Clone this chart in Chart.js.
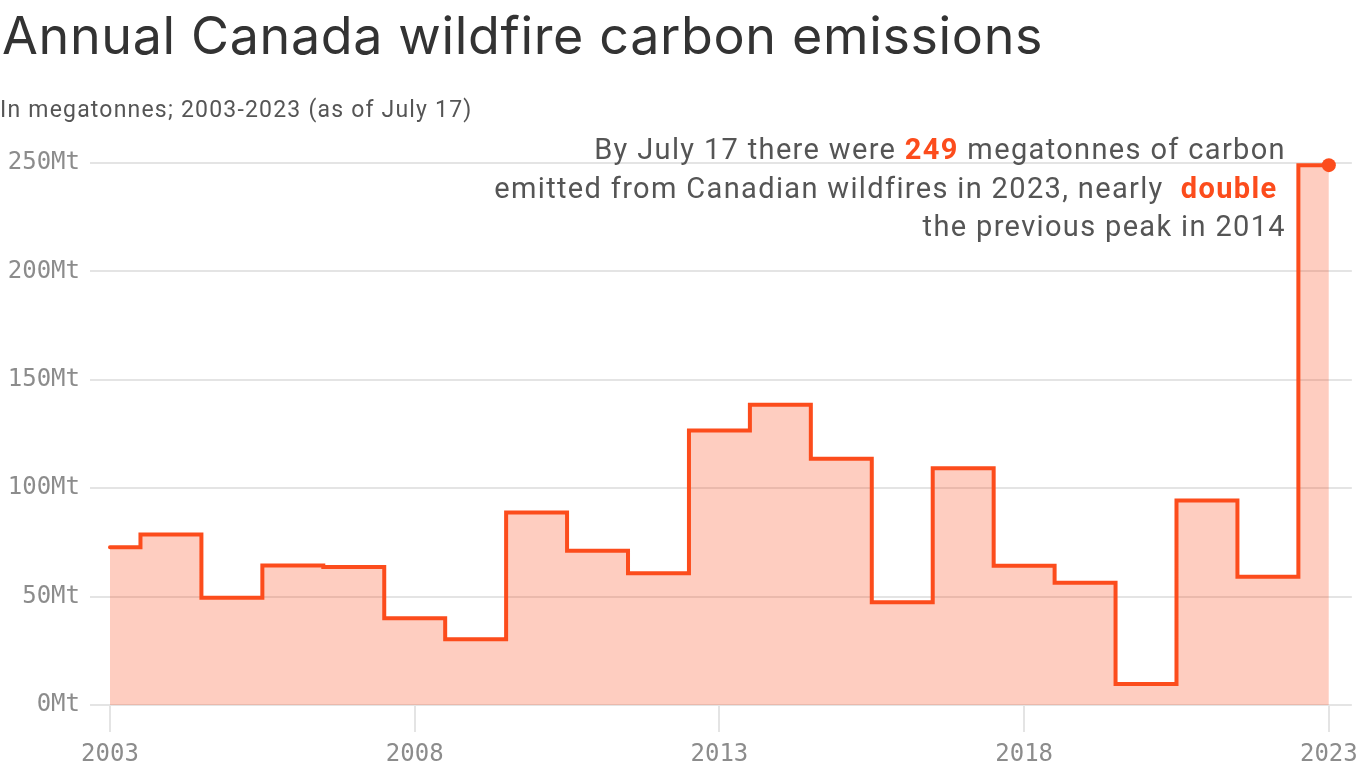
<!DOCTYPE html>
<html>
<head>
<meta charset="utf-8">
<script src="https://cdn.jsdelivr.net/npm/chart.js@4/dist/chart.umd.min.js"></script>
<style>
  html, body { margin: 0; padding: 0; background: #fff; }
  body { width: 1366px; height: 768px; position: relative; overflow: hidden; }
  #wrap { position: absolute; left: 0; top: 0; width: 1366px; height: 768px; }
  .title { position: absolute; left: 2px; top: 6px; font-family: Inter, sans-serif; font-size: 52px; line-height: 60px; color: #333; letter-spacing: 0.65px; white-space: nowrap; }
  .subtitle { position: absolute; left: 0px; top: 96px; font-family: Roboto, sans-serif; font-size: 23px; line-height: 28px; color: #555; white-space: nowrap; letter-spacing: 1.2px; }
  .note { position: absolute; right: 80px; top: 130px; text-align: right; font-family: Roboto, sans-serif; font-size: 29px; line-height: 38.5px; color: #555; white-space: nowrap; letter-spacing: 1.35px; }
  .note b { color: #fc4c1c; font-weight: 700; }
</style>
</head>
<body>
<div id="wrap"><canvas id="c" width="1366" height="768"></canvas></div>
<div class="title">Annual Canada wildfire carbon emissions</div>
<div class="subtitle">In megatonnes; 2003-2023 (as of July 17)</div>
<div class="note">By July 17 there were <b>249</b> megatonnes of carbon<br>emitted from Canadian wildfires in 2023, nearly &nbsp;<b>double</b>&nbsp;<br>the previous peak in 2014</div>
<script>
const years = [2003,2004,2005,2006,2007,2008,2009,2010,2011,2012,2013,2014,2015,2016,2017,2018,2019,2020,2021,2022,2023];
const emissions = [72.8,78.6,49.5,64.3,63.6,40.0,30.3,88.8,71.1,60.8,126.6,138.5,113.6,47.4,109.2,64.2,56.4,9.7,94.3,59.2,249];
const yTicks = [0,50,100,150,200,250];
const xTicks = [2003,2008,2013,2018,2023];

const orange = '#fc4c1c';
const gridColor = '#e4e4e4';
const monoFont = { family: '"DejaVu Sans Mono", monospace', size: 24 };

const points = years.map((y, i) => ({ x: y, y: emissions[i] }));
const radii = years.map((y, i) => i === years.length - 1 ? 7 : 0);

new Chart(document.getElementById('c'), {
  type: 'line',
  data: {
    datasets: [{
      data: points,
      stepped: 'middle',
      borderColor: orange,
      borderWidth: 4,
      borderJoinStyle: 'miter',
      borderCapStyle: 'round',
      fill: 'origin',
      backgroundColor: 'rgba(252,76,28,0.28)',
      pointRadius: radii,
      pointHoverRadius: radii,
      pointBackgroundColor: orange,
      pointBorderWidth: 0,
      clip: false
    }]
  },
  options: {
    responsive: false,
    animation: false,
    events: [],
    layout: { padding: { top: 163, right: 14, left: 0, bottom: 0 } },
    plugins: { legend: { display: false }, tooltip: { enabled: false }, title: { display: false } },
    scales: {
      x: {
        type: 'linear',
        min: 2003 - 20 / 60.95,
        max: 2023 + 23 / 60.95,
        afterBuildTicks: (s) => { s.ticks = xTicks.map(v => ({ value: v })); },
        afterFit: (s) => { s.height = 63; },
        border: { display: false },
        grid: { drawOnChartArea: false, drawTicks: true, tickLength: 27, color: gridColor, lineWidth: 2 },
        ticks: { color: '#8c8c8c', font: monoFont, padding: 8, maxRotation: 0, autoSkip: false, callback: (v) => String(v) }
      },
      y: {
        min: 0,
        max: 250,
        afterBuildTicks: (s) => { s.ticks = yTicks.map(v => ({ value: v })); },
        afterFit: (s) => { s.width = 90; },
        border: { display: false },
        grid: { drawTicks: false, color: gridColor, lineWidth: 2 },
        ticks: { color: '#8c8c8c', font: monoFont, padding: 10, callback: (v) => v + 'Mt' }
      }
    }
  }
});
</script>
</body>
</html>
